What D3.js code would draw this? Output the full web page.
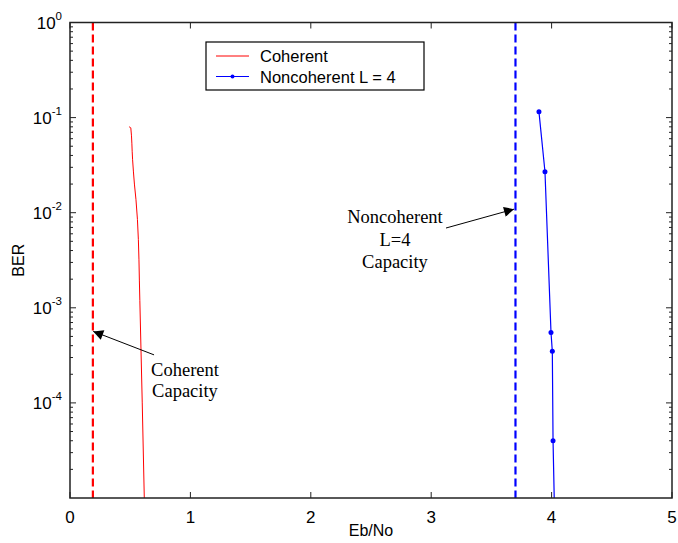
<!DOCTYPE html>
<html>
<head>
<meta charset="utf-8">
<script src="https://cdn.jsdelivr.net/npm/d3@7"></script>
<style>
  body { margin: 0; background: #fff; }
</style>
</head>
<body>
<div id="chart"></div>
<script>
// data
var cohEb  = [0.49, 0.505, 0.52, 0.535, 0.548, 0.56, 0.58, 0.60, 0.617, 0.63];
var cohBer = [0.08, 0.078, 0.036, 0.02, 0.0137, 0.0085, 1.2e-3, 1.0e-4, 1.0e-5, 2e-6];

var ncEb  = [3.895, 3.945, 3.995, 4.006, 4.012, 4.038];
var ncBer = [0.115, 0.027, 5.5e-4, 3.5e-4, 4.0e-5, 1.0e-6];

var cohCapacity = 0.19;
var ncCapacity  = 3.70;

var xTicks = [0, 1, 2, 3, 4, 5];
var yTickExp = [0, -1, -2, -3, -4];

var width = 678, height = 543;
var margin = {top: 22.5, right: 6, bottom: 45, left: 70};
var w = width - margin.left - margin.right;   // 602
var h = height - margin.top - margin.bottom;  // 475.5

var sans = "Arial, 'Liberation Sans', sans-serif";
var serif = "'Times New Roman', 'Liberation Serif', serif";

var x = d3.scaleLinear().domain([0, 5]).range([0, w]);
var y = d3.scaleLog().domain([1e-5, 1]).range([h, 0]);

var svg = d3.select("#chart").append("svg")
    .attr("width", width).attr("height", height);

var defs = svg.append("defs");
defs.append("clipPath").attr("id", "clip")
  .append("rect").attr("width", w).attr("height", h);
defs.append("marker").attr("id", "arrow")
    .attr("viewBox", "0 0 10 10").attr("refX", 10).attr("refY", 5)
    .attr("markerWidth", 14).attr("markerHeight", 10)
    .attr("markerUnits", "userSpaceOnUse").attr("orient", "auto")
  .append("path").attr("d", "M0,0 L10,5 L0,10 z").attr("fill", "#000");

var g = svg.append("g").attr("transform", "translate(" + margin.left + "," + margin.top + ")");

// minor log ticks
var minor = [];
for (var e = -5; e < 0; e++) for (var m = 2; m <= 9; m++) minor.push(m * Math.pow(10, e));

var ax = g.append("g").attr("class", "axes");
[0, w].forEach(function(x0, i) {
  var dir = i === 0 ? 1 : -1;
  ax.selectAll(null).data(minor).enter().append("line")
    .attr("x1", x0).attr("x2", x0 + dir * 3)
    .attr("y1", function(d) { return y(d); }).attr("y2", function(d) { return y(d); })
    .attr("stroke", "#222").attr("stroke-width", 1);
  ax.selectAll(null).data(yTickExp).enter().append("line")
    .attr("x1", x0).attr("x2", x0 + dir * 6)
    .attr("y1", function(d) { return y(Math.pow(10, d)); }).attr("y2", function(d) { return y(Math.pow(10, d)); })
    .attr("stroke", "#222").attr("stroke-width", 1);
});
[0, h].forEach(function(y0, i) {
  var dir = i === 0 ? 1 : -1;
  ax.selectAll(null).data(xTicks).enter().append("line")
    .attr("x1", function(d) { return x(d); }).attr("x2", function(d) { return x(d); })
    .attr("y1", y0).attr("y2", y0 + dir * 6)
    .attr("stroke", "#222").attr("stroke-width", 1);
});

// x tick labels
g.selectAll(".xl").data(xTicks).enter().append("text")
  .attr("class", "xl")
  .attr("x", function(d) { return x(d); }).attr("y", h + 25)
  .attr("text-anchor", "middle")
  .style("font-family", sans).style("font-size", "17px")
  .text(function(d) { return d; });

// y tick labels 10^n
var yl = g.selectAll(".yl").data(yTickExp).enter().append("text")
  .attr("class", "yl")
  .attr("x", -8).attr("y", function(d) { return y(Math.pow(10, d)) + 6; })
  .attr("text-anchor", "end")
  .style("font-family", sans).style("font-size", "17px");
yl.append("tspan").text("10");
yl.append("tspan").attr("dy", -9).style("font-size", "11.5px").text(function(d) { return d; });

// axis labels
svg.append("text").attr("x", margin.left + w / 2).attr("y", 536)
  .attr("text-anchor", "middle")
  .style("font-family", sans).style("font-size", "16px")
  .text("Eb/No");
svg.append("text").attr("transform", "translate(24," + (margin.top + h / 2) + ") rotate(-90)")
  .attr("text-anchor", "middle")
  .style("font-family", sans).style("font-size", "16px")
  .text("BER");

var plot = g.append("g").attr("clip-path", "url(#clip)");

// capacity lines
plot.append("line")
  .attr("x1", x(cohCapacity)).attr("x2", x(cohCapacity)).attr("y1", 0).attr("y2", h)
  .attr("stroke", "#ff0000").attr("stroke-width", 2.2).attr("stroke-dasharray", "8,4");
plot.append("line")
  .attr("x1", x(ncCapacity)).attr("x2", x(ncCapacity)).attr("y1", 0).attr("y2", h)
  .attr("stroke", "#0000ff").attr("stroke-width", 2.2).attr("stroke-dasharray", "8,4");

var line = d3.line()
  .x(function(d) { return x(d[0]); })
  .y(function(d) { return y(d[1]); });

var coh = d3.zip(cohEb, cohBer);
var nc = d3.zip(ncEb, ncBer);

plot.append("path").datum(coh).attr("d", line.curve(d3.curveMonotoneY))
  .attr("fill", "none").attr("stroke", "#ff0000").attr("stroke-width", 1);
plot.append("path").datum(nc).attr("d", line.curve(d3.curveLinear))
  .attr("fill", "none").attr("stroke", "#0000ff").attr("stroke-width", 1.2);
plot.selectAll(".dot").data(nc).enter().append("circle")
  .attr("class", "dot")
  .attr("cx", function(d) { return x(d[0]); }).attr("cy", function(d) { return y(d[1]); })
  .attr("r", 2.5).attr("fill", "#0000ff");

// frame
g.append("rect").attr("width", w).attr("height", h)
  .attr("fill", "none").attr("stroke", "#222").attr("stroke-width", 1.5);

// annotations
g.append("line")
  .attr("x1", x(0.698)).attr("y1", y(3.2e-4))
  .attr("x2", x(0.193)).attr("y2", y(5.65e-4))
  .attr("stroke", "#000").attr("stroke-width", 1).attr("marker-end", "url(#arrow)");
g.append("line")
  .attr("x1", x(3.123)).attr("y1", y(0.0069))
  .attr("x2", x(3.688)).attr("y2", y(0.0109))
  .attr("stroke", "#000").attr("stroke-width", 1).attr("marker-end", "url(#arrow)");

var ann1 = g.append("text").attr("text-anchor", "middle")
  .style("font-family", serif).style("font-size", "18.5px");
ann1.append("tspan").attr("x", 185 - margin.left).attr("y", 376 - margin.top).text("Coherent");
ann1.append("tspan").attr("x", 185 - margin.left).attr("y", 397 - margin.top).text("Capacity");

var ann2 = g.append("text").attr("text-anchor", "middle")
  .style("font-family", serif).style("font-size", "18.5px");
ann2.append("tspan").attr("x", 395 - margin.left).attr("y", 223 - margin.top).text("Noncoherent");
ann2.append("tspan").attr("x", 395 - margin.left).attr("y", 246 - margin.top).text("L=4");
ann2.append("tspan").attr("x", 395 - margin.left).attr("y", 268 - margin.top).text("Capacity");

// legend
var lg = svg.append("g").attr("transform", "translate(206,42)");
lg.append("rect").attr("width", 218).attr("height", 48)
  .attr("fill", "#fff").attr("stroke", "#000").attr("stroke-width", 1.2);
lg.append("line").attr("x1", 10).attr("x2", 43).attr("y1", 14).attr("y2", 14)
  .attr("stroke", "#ff0000").attr("stroke-width", 1);
lg.append("line").attr("x1", 10).attr("x2", 43).attr("y1", 34.5).attr("y2", 34.5)
  .attr("stroke", "#0000ff").attr("stroke-width", 1.2);
lg.append("circle").attr("cx", 26.5).attr("cy", 34.5).attr("r", 2).attr("fill", "#0000ff");
lg.append("text").attr("x", 54).attr("y", 20)
  .style("font-family", sans).style("font-size", "16.5px")
  .text("Coherent");
lg.append("text").attr("x", 54).attr("y", 40.5)
  .style("font-family", sans).style("font-size", "16.5px")
  .text("Noncoherent L = 4");
</script>
</body>
</html>
